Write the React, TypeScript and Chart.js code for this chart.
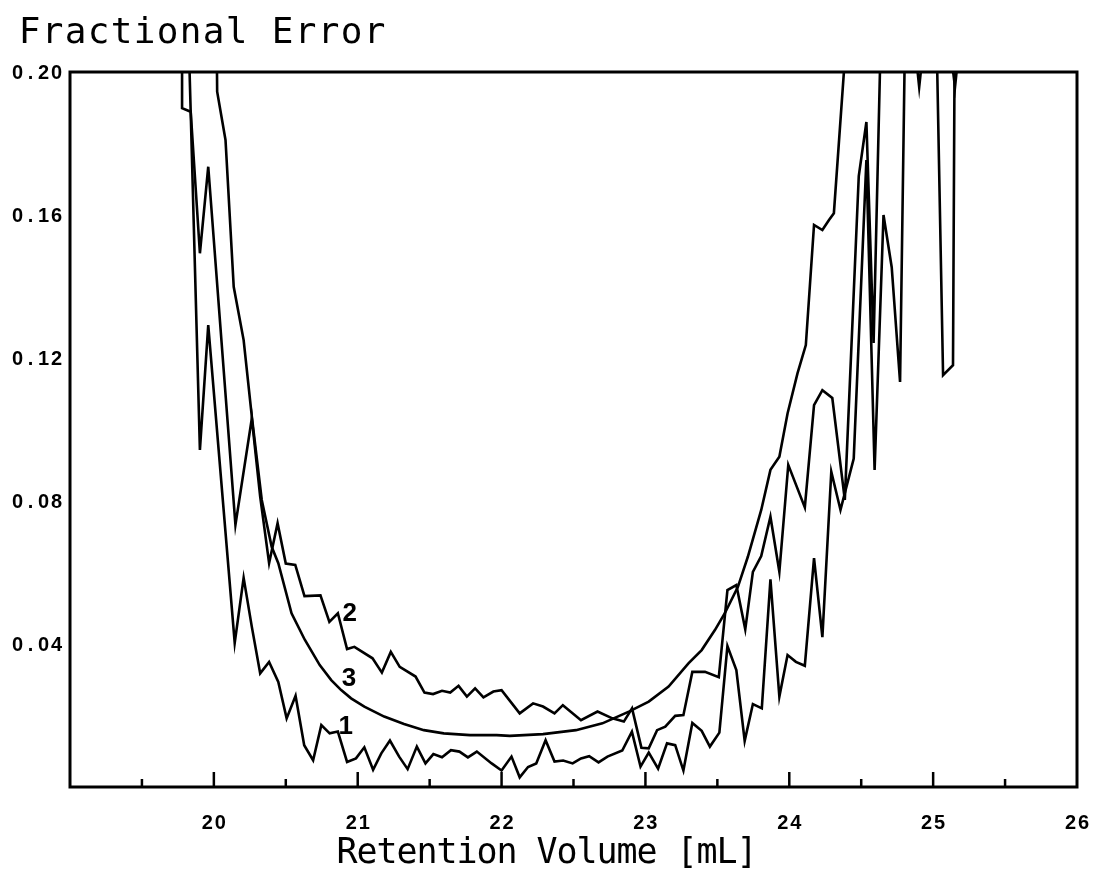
import React, { useEffect, useRef } from "react";
import { Chart, registerables } from "chart.js";

Chart.register(...registerables);

// ---------- text ----------
const yAxisTitle = "Fractional Error";
const xAxisTitle = "Retention Volume [mL]";
const xTickLabels = ["20", "21", "22", "23", "24", "25", "26"];
const yTickLabels = ["0.04", "0.08", "0.12", "0.16", "0.20"];

// ---------- data: [retention volume (mL), fractional error] ----------
const curve1: [number, number][] = [
  [19.823, 0.2117], [19.839, 0.1889], [19.903, 0.0943], [19.961, 0.1292],
  [20.145, 0.0403], [20.207, 0.0585], [20.264, 0.0448], [20.322, 0.0318],
  [20.384, 0.035], [20.448, 0.0294], [20.506, 0.0192], [20.568, 0.0255],
  [20.628, 0.0117], [20.69, 0.0075], [20.747, 0.0173], [20.805, 0.015],
  [20.862, 0.0155], [20.926, 0.007], [20.988, 0.008], [21.046, 0.0111],
  [21.107, 0.0048], [21.164, 0.0094], [21.224, 0.013], [21.288, 0.0085],
  [21.347, 0.005], [21.411, 0.0113], [21.471, 0.0066], [21.526, 0.0092],
  [21.586, 0.0083], [21.648, 0.0103], [21.707, 0.0099], [21.766, 0.0083],
  [21.828, 0.0099], [21.931, 0.0066], [22.0, 0.0046], [22.069, 0.0085],
  [22.126, 0.0027], [22.184, 0.0056], [22.241, 0.0066], [22.306, 0.0131],
  [22.368, 0.0071], [22.428, 0.0074], [22.494, 0.0066], [22.552, 0.008],
  [22.609, 0.0086], [22.674, 0.0069], [22.736, 0.0085], [22.839, 0.0102],
  [22.906, 0.0155], [22.966, 0.0057], [23.023, 0.0096], [23.088, 0.0051],
  [23.15, 0.0122], [23.207, 0.0117], [23.264, 0.0046], [23.326, 0.0179],
  [23.391, 0.0157], [23.448, 0.0113], [23.514, 0.0152], [23.57, 0.0394],
  [23.632, 0.0327], [23.69, 0.0129], [23.747, 0.0232], [23.809, 0.022],
  [23.869, 0.0581], [23.931, 0.0253], [23.988, 0.0369], [24.046, 0.035],
  [24.108, 0.0339], [24.172, 0.064], [24.23, 0.0419], [24.292, 0.0882],
  [24.356, 0.0775], [24.448, 0.0919], [24.536, 0.1754], [24.593, 0.0887],
  [24.655, 0.16], [24.712, 0.1454], [24.77, 0.1133], [24.805, 0.2117],
  [25.023, 0.2117], [25.069, 0.1152], [25.138, 0.118], [25.15, 0.2117],
];

const curve2: [number, number][] = [
  [19.779, 0.2117], [19.779, 0.1899], [19.839, 0.1889], [19.903, 0.1493],
  [19.961, 0.1735], [20.15, 0.0733], [20.264, 0.1031], [20.322, 0.0812],
  [20.384, 0.0626], [20.443, 0.0738], [20.5, 0.0625], [20.566, 0.0621],
  [20.63, 0.0534], [20.741, 0.0536], [20.803, 0.0462], [20.862, 0.0486],
  [20.926, 0.0386], [20.977, 0.0392], [21.103, 0.036], [21.168, 0.032],
  [21.23, 0.0378], [21.292, 0.0336], [21.402, 0.0309], [21.464, 0.0264],
  [21.524, 0.026], [21.586, 0.0269], [21.643, 0.0264], [21.701, 0.0283],
  [21.759, 0.0253], [21.816, 0.0276], [21.874, 0.0251], [21.943, 0.0267],
  [22.0, 0.0271], [22.126, 0.0206], [22.219, 0.0234], [22.288, 0.0225],
  [22.368, 0.0206], [22.426, 0.0229], [22.552, 0.0187], [22.667, 0.0211],
  [22.77, 0.0192], [22.85, 0.0183], [22.907, 0.022], [22.972, 0.011],
  [23.023, 0.0108], [23.081, 0.0159], [23.138, 0.0169], [23.207, 0.0199],
  [23.264, 0.0201], [23.326, 0.0322], [23.414, 0.0322], [23.51, 0.0307],
  [23.57, 0.0551], [23.632, 0.0565], [23.694, 0.0441], [23.747, 0.0602],
  [23.805, 0.0646], [23.869, 0.0756], [23.931, 0.0602], [23.993, 0.0901],
  [24.108, 0.0782], [24.172, 0.1068], [24.23, 0.111], [24.299, 0.1088],
  [24.386, 0.0803], [24.483, 0.1709], [24.536, 0.186], [24.586, 0.1242],
  [24.637, 0.2117], [24.862, 0.2117], [24.903, 0.1958], [24.945, 0.2117],
  [25.103, 0.2117], [25.152, 0.1958], [25.193, 0.2117],
];

const curve3: [number, number][] = [
  [20.019, 0.2117], [20.023, 0.1945], [20.081, 0.181], [20.138, 0.1399],
  [20.207, 0.125], [20.264, 0.1036], [20.333, 0.0803], [20.402, 0.0672],
  [20.448, 0.0626], [20.54, 0.0486], [20.632, 0.0412], [20.736, 0.0341],
  [20.816, 0.0299], [20.885, 0.0271], [20.954, 0.0248], [21.046, 0.0225],
  [21.184, 0.0197], [21.322, 0.0176], [21.46, 0.0159], [21.598, 0.015],
  [21.781, 0.0145], [21.966, 0.0145], [22.057, 0.0143], [22.288, 0.0148],
  [22.517, 0.0159], [22.701, 0.0178], [22.885, 0.0211], [23.023, 0.0239],
  [23.161, 0.0281], [23.299, 0.0346], [23.391, 0.0383], [23.483, 0.0439],
  [23.552, 0.0486], [23.643, 0.056], [23.712, 0.0644], [23.805, 0.0775],
  [23.869, 0.0887], [23.931, 0.0924], [23.988, 0.1045], [24.057, 0.1157],
  [24.115, 0.1236], [24.172, 0.1572], [24.23, 0.1558], [24.276, 0.1586],
  [24.31, 0.1605], [24.379, 0.1996], [24.393, 0.2117],
];

const curveNames = ["1", "2", "3"];
const curveNameAnchors: [number, number][] = [
  [20.917, 0.0173],
  [20.945, 0.0489],
  [20.94, 0.0308],
];

function drawCells(ctx: CanvasRenderingContext2D, text: string, xStart: number, baseline: number, cell: number) {
  ctx.textAlign = "center";
  for (let i = 0; i < text.length; i++) {
    ctx.fillText(text[i], xStart + cell * (i + 0.5), baseline);
  }
}

const framePlugin = {
  id: "framePlugin",
  afterDraw(chart: any) {
    const { ctx, chartArea, scales } = chart;
    const { left, top, right, bottom } = chartArea;
    const x = scales.x;
    const y = scales.y;
    ctx.save();
    ctx.strokeStyle = "#000";
    ctx.fillStyle = "#000";
    ctx.lineWidth = 3;
    ctx.strokeRect(left, top, right - left, bottom - top);

    // inward x tick marks
    ctx.lineWidth = 2.5;
    x.ticks.forEach((t: any) => {
      const v = t.value;
      if (v <= x.min + 1e-6 || v >= x.max - 1e-6) return;
      const px = x.getPixelForValue(v);
      const major = Math.abs(v - Math.round(v)) < 1e-6;
      ctx.beginPath();
      ctx.moveTo(px, bottom);
      ctx.lineTo(px, bottom - (major ? 15 : 8));
      ctx.stroke();
    });

    // tick labels
    ctx.font = "bold 20px Arial, 'Liberation Sans', sans-serif";
    xTickLabels.forEach((lbl) => {
      const px = x.getPixelForValue(parseFloat(lbl));
      drawCells(ctx, lbl, px - (lbl.length * 13) / 2, 829, 13);
    });
    yTickLabels.forEach((lbl) => {
      const py = y.getPixelForValue(parseFloat(lbl));
      drawCells(ctx, lbl, 63 - lbl.length * 13, py + 7, 13);
    });

    // titles
    ctx.font = "36px 'DejaVu Sans Mono', monospace";
    drawCells(ctx, yAxisTitle, 18, 43, 23);
    ctx.font = "35px 'DejaVu Sans Mono', monospace";
    drawCells(ctx, xAxisTitle, 337, 863, 20);

    // curve names
    ctx.font = "bold 26px Arial, 'Liberation Sans', sans-serif";
    ctx.textAlign = "center";
    curveNames.forEach((name, i) => {
      const [vx, vy] = curveNameAnchors[i];
      ctx.fillText(name, x.getPixelForValue(vx), y.getPixelForValue(vy) + 9);
    });
    ctx.restore();
  },
};

export default function App() {
  const canvasRef = useRef<HTMLCanvasElement | null>(null);

  useEffect(() => {
    const canvas = canvasRef.current;
    if (!canvas) return;
    const toPts = (arr: [number, number][]) => arr.map(([vx, vy]) => ({ x: vx, y: vy }));
    const chart = new Chart(canvas, {
      type: "line",
      data: {
        datasets: [curve1, curve2, curve3].map((c, i) => ({
          label: curveNames[i],
          data: toPts(c),
          borderColor: "#000",
          borderWidth: 2.6,
          pointRadius: 0,
          tension: 0,
          fill: false,
        })),
      },
      options: {
        animation: false,
        responsive: false,
        maintainAspectRatio: false,
        layout: { padding: { left: 0, top: 72, right: 22, bottom: 0 } },
        plugins: {
          legend: { display: false },
          tooltip: { enabled: false },
          title: { display: false },
        },
        scales: {
          x: {
            type: "linear",
            min: 19,
            max: 26,
            ticks: { display: false, stepSize: 0.5 },
            grid: { display: false },
            border: { display: false },
            afterFit: (s: any) => {
              s.height = 97;
            },
          },
          y: {
            type: "linear",
            min: 0,
            max: 0.2,
            ticks: { display: false, stepSize: 0.04 },
            grid: { display: false },
            border: { display: false },
            afterFit: (s: any) => {
              s.width = 70;
            },
          },
        },
      } as any,
      plugins: [framePlugin],
    });
    return () => chart.destroy();
  }, []);

  return (
    <div style={{ position: "fixed", left: 0, top: 0, width: 1099, height: 884, background: "#fff" }}>
      <canvas ref={canvasRef} width={1099} height={884} style={{ display: "block" }} />
    </div>
  );
}
